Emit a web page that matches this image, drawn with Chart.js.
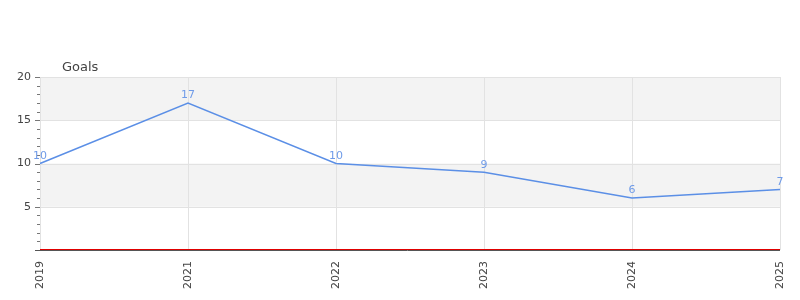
<!DOCTYPE html>
<html>
<head>
<meta charset="utf-8">
<script src="https://cdn.jsdelivr.net/npm/chart.js@4"></script>
<style>
  html, body { margin: 0; padding: 0; background: #fff; }
  #wrap { width: 800px; height: 300px; }
</style>
</head>
<body>
<div id="wrap"><canvas id="myChart" width="800" height="300"></canvas></div>
<script>
// datos del grafico
const years = ['2019', '2021', '2022', '2023', '2024', '2025'];
const goals = [10, 17, 10, 9, 6, 7];
const yTicks = [5, 10, 15, 20];
const chartTitle = 'Goals';

const fuente = '"DejaVu Sans", sans-serif';

// bandas grises alternas, ticks del eje y, linea roja en cero
const fondoPlugin = {
    id: 'fondo',
    beforeDatasetsDraw(chart) {
        const ctx = chart.ctx;
        const area = chart.chartArea;
        const y = chart.scales.y;
        ctx.save();
        ctx.fillStyle = '#f3f3f3';
        for (let i = 0; i < yTicks.length; i += 2) {
            const arriba = y.getPixelForValue(yTicks[i] + 5);
            const abajo = y.getPixelForValue(yTicks[i]);
            ctx.fillRect(area.left, arriba, area.right - area.left, abajo - arriba);
        }
        // lineas de la rejilla encima de las bandas
        ctx.strokeStyle = '#e2e2e2';
        ctx.lineWidth = 1;
        yTicks.forEach(v => {
            const py = Math.round(y.getPixelForValue(v)) + 0.5;
            ctx.beginPath();
            ctx.moveTo(area.left, py);
            ctx.lineTo(area.right, py);
            ctx.stroke();
        });
        chart.scales.x.ticks.forEach((t, i) => {
            const px = Math.round(chart.scales.x.getPixelForTick(i)) + 0.5;
            ctx.beginPath();
            ctx.moveTo(px, area.top);
            ctx.lineTo(px, area.bottom);
            ctx.stroke();
        });
        ctx.restore();
    },
    afterDatasetsDraw(chart) {
        const ctx = chart.ctx;
        const area = chart.chartArea;
        const x = chart.scales.x;
        const y = chart.scales.y;
        ctx.save();
        ctx.lineWidth = 1;

        // eje x gris oscuro y linea roja en cero justo encima
        const y0 = Math.round(y.getPixelForValue(0));
        ctx.strokeStyle = '#555';
        ctx.beginPath();
        ctx.moveTo(area.left - 5, y0 + 0.5);
        ctx.lineTo(area.right, y0 + 0.5);
        ctx.stroke();
        ctx.strokeStyle = '#e00000';
        ctx.beginPath();
        ctx.moveTo(area.left, y0 - 0.5);
        ctx.lineTo(area.right, y0 - 0.5);
        ctx.stroke();

        // ticks del eje y (mayores y menores)
        ctx.strokeStyle = '#777';
        for (let v = 1; v <= 20; v++) {
            const py = Math.round(y.getPixelForValue(v)) + 0.5;
            const largo = v % 5 === 0 ? 5 : 3;
            ctx.beginPath();
            ctx.moveTo(area.left - largo, py);
            ctx.lineTo(area.left, py);
            ctx.stroke();
        }

        // etiquetas de los puntos
        const meta = chart.getDatasetMeta(0);
        ctx.fillStyle = '#6f9be8';
        ctx.font = '11px ' + fuente;
        ctx.textAlign = 'center';
        ctx.textBaseline = 'bottom';
        meta.data.forEach((p, i) => {
            ctx.fillText(String(goals[i]), p.x, p.y - 2);
        });

        // etiquetas del eje x giradas
        ctx.fillStyle = '#444';
        ctx.font = '11px ' + fuente;
        ctx.textAlign = 'right';
        ctx.textBaseline = 'middle';
        years.forEach((label, i) => {
            const px = x.getPixelForTick(i);
            ctx.save();
            ctx.translate(px, area.bottom + 11);
            ctx.rotate(-Math.PI / 2);
            ctx.fillText(label, 0, 0);
            ctx.restore();
        });

        // titulo
        ctx.fillStyle = '#444';
        ctx.font = '13px ' + fuente;
        ctx.textAlign = 'left';
        ctx.textBaseline = 'middle';
        ctx.fillText(chartTitle, area.left + 22, area.top - 9);

        ctx.restore();
    }
};

const ctx = document.getElementById('myChart').getContext('2d');
const myChart = new Chart(ctx, {
    type: 'line',
    data: {
        labels: years,
        datasets: [{
            label: chartTitle,
            data: goals,
            borderColor: '#5b8fe6',
            borderWidth: 1.5,
            pointRadius: 0,
            tension: 0,
            fill: false
        }]
    },
    options: {
        responsive: false,
        animation: false,
        devicePixelRatio: 1,
        layout: { padding: { top: 77, right: 20, left: 0, bottom: 0 } },
        plugins: {
            legend: { display: false },
            title: { display: false },
            tooltip: { enabled: false }
        },
        scales: {
            x: {
                offset: false,
                grid: { display: false },
                border: { display: false },
                ticks: { display: false },
                afterFit(scale) { scale.height = 50; }
            },
            y: {
                min: 0,
                max: 20,
                grid: { display: false, drawTicks: true, tickLength: 5 },
                border: { color: '#888', width: 1 },
                ticks: {
                    stepSize: 5,
                    padding: 4,
                    color: '#444',
                    font: { family: fuente, size: 11 },
                    callback: v => (v === 0 ? '' : v)
                },
                afterFit(scale) { scale.width = 40; }
            }
        }
    },
    plugins: [fondoPlugin]
});
</script>
</body>
</html>
